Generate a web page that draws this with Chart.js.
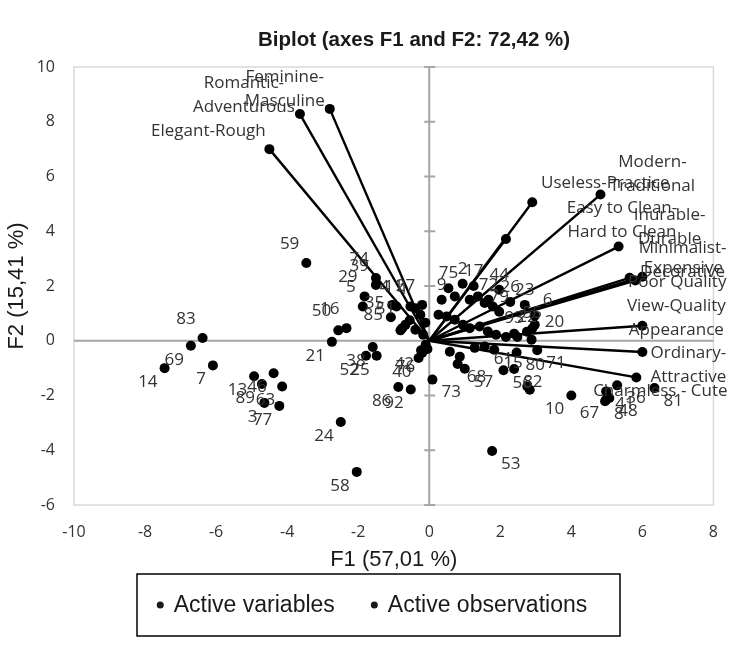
<!DOCTYPE html>
<html><head><meta charset="utf-8">
<script src="https://cdn.jsdelivr.net/npm/chart.js@4.4.1/dist/chart.umd.min.js"></script>
<style>html,body{margin:0;padding:0;background:#fff}#wrap{width:736px;height:648px}</style>
</head><body><div id="wrap"><canvas id="c" width="736" height="648"></canvas></div>
<script>
// ---------- data ----------
const chartTitle = 'Biplot (axes F1 and F2: 72,42 %)';
const xAxisTitle = 'F1 (57,01 %)';
const yAxisTitle = 'F2 (15,41 %)';
const seriesNames = ['Active variables', 'Active observations'];
const xTicks = [-10, -8, -6, -4, -2, 0, 2, 4, 6, 8];
const yTicks = [-6, -4, -2, 0, 2, 4, 6, 8, 10];

const varNames = ['Elegant-Rough', 'Romantic-\nAdventurous', 'Feminine-\nMasculine', 'Useless-Practice',
  'Modern-\nTraditional', 'Easy to Clean-\nHard to Clean', 'Inurable-\nDurable', 'Minimalist-\nDecorative',
  'Expensive', 'Poor Quality', 'View-Quality\nAppearance', 'Ordinary-\nAttractive', 'Charmless - Cute'];
const varF1 = [-4.50, -3.64, -2.80, 2.90, 4.82, 2.16, 5.33, 5.64, 6.00, 5.80, 6.00, 6.00, 5.83];
const varF2 = [7.00, 8.28, 8.47, 5.06, 5.34, 3.72, 3.44, 2.30, 2.34, 2.20, 0.55, -0.41, -1.34];

const obsNames = ['1','2','3','4','5','6','7','8','9','10','11','12','13','14','15','16','17','18','19','20',
  '21','22','23','24','25','26','27','28','29','30','31','32','33','34','35','36','37','38','39','40',
  '41','42','43','44','45','46','47','48','49','50','51','52','53','54','55','56','57','58','59','60',
  '61','62','63','64','65','66','67','68','69','70','71','72','73','74','75','76','77','78','79','80',
  '81','82','83','84','85','86','87','88','89','90','91','92','93','94','95','96'];
const obsF1 = [-0.39, 0.94, -4.64, -0.92, -1.87, 2.97, -6.09, 4.95, 0.35, 4.00,
  -0.53, 0.72, -4.93, -7.45, 1.83, -2.33, 1.25, 1.14, 1.37, 2.97,
  -2.74, 2.75, 2.69, -2.49, -1.48, 2.28, -0.20, 1.56, -1.82, 1.79,
  0.26, 0.49, 0.72, 0.95, -1.04, 5.29, 1.14, -1.59, -1.50, -0.30,
  4.98, -0.23, 1.42, 1.97, 1.65, -4.38, 1.88, 5.07, 2.16, -2.56,
  -0.76, -1.78, 1.77, 2.48, 2.90, 2.09, 1.00, -2.04, -3.46, 2.88,
  1.56, 0.58, -4.14, 0.86, 1.28, 2.76, 4.98, 0.80, -6.71, 2.83,
  3.04, 1.67, 0.09, -1.50, 0.54, -0.20, -4.22, -0.25, 1.97, 2.46,
  6.34, 2.39, -6.38, -0.11, -1.08, -0.87, -0.81, -0.67, -4.71, -0.39,
  -0.17, -0.52, 2.39, -0.10, -0.05, -0.55];
const obsF2 = [1.19, 2.08, -2.27, 1.25, 1.25, 0.91, -0.90, -2.21, 1.50, -2.00,
  1.25, 1.62, -1.30, -1.00, -0.33, 0.46, 2.00, 1.50, 1.62, 0.58,
  -0.04, 0.33, 1.31, -2.97, -0.55, 1.42, 1.31, 1.38, 1.62, 1.25,
  0.95, 0.89, 0.77, 0.58, 1.31, -1.63, 0.46, -0.23, 2.04, -0.63,
  -1.85, -0.35, 0.52, 1.86, 0.34, -1.19, 0.22, -2.09, 0.14, 0.38,
  0.46, -0.55, -4.03, 0.14, 0.45, -1.08, -1.02, -4.79, 2.84, 0.04,
  -0.21, -0.40, -1.67, -0.58, -0.26, -1.67, -2.15, -0.85, -0.18, -1.79,
  -0.35, 1.50, -1.42, 2.29, 1.92, -0.45, -2.38, 0.95, 1.06, -0.43,
  -1.73, -1.03, 0.10, 0.66, 0.86, -1.69, 0.38, 0.58, -1.58, 0.40,
  0.22, -1.78, 0.26, -0.15, -0.30, 0.75];

// ---------- styles (label placement, not data) ----------
const varLabelDX = [-61, -56, -45, 73, 52, 116, 51, 53, 41, 42, 34, 46, 24];
const varLabelDY = [-18, -31, -32, -19, -32, -31, -31, -30, -9, 2, -20, 1, 14];
const obsLabelPlace = ['tl','t','bl','tl','tl','tr','bl','br','t','bl',
  'tl','-','bl','bl','br','tl','t','-','-','r',
  'bl','t','t','bl','bl','t','tl','-','tl','-',
  '-','-','-','-','l','br','-','bl','tl','bl',
  'br','bl','-','t','-','bl','-','br','-','tl',
  'tl','bl','br','-','t','br','br','bl','tl','-',
  'br','-','bl','-','-','-','bl','br','bl','-',
  'br','t','br','tl','t','bl','bl','-','t','br',
  'br','br','tl','-','l','bl','-','-','bl','-',
  '-','bl','t','-','-','-'];
const PLACE = {bl:['right',-7,14], br:['left',9,13], tl:['right',-7,-19], tr:['left',8,-16],
  l:['right',-8,-2], r:['left',10,-3], t:['center',0,-15]};
const LABEL_FONT = '17px "Open Sans", "Noto Sans", sans-serif';
const TEXT_COLOR = '#333333';

const framePlugin = {
  id: 'frame',
  beforeDatasetsDraw(chart) {
    const {ctx, chartArea: a, scales: {x, y}} = chart;
    ctx.save();
    ctx.strokeStyle = '#d9d9d9'; ctx.lineWidth = 1.5;
    ctx.strokeRect(a.left, a.top, a.right - a.left, a.bottom - a.top);
    const x0 = x.getPixelForValue(0), y0 = y.getPixelForValue(0);
    ctx.strokeStyle = '#a6a6a6'; ctx.lineWidth = 2;
    ctx.beginPath();
    ctx.moveTo(a.left, y0); ctx.lineTo(a.right, y0);
    ctx.moveTo(x0, a.top); ctx.lineTo(x0, a.bottom);
    yTicks.forEach(v => { const py = y.getPixelForValue(v); ctx.moveTo(x0 - 5, py); ctx.lineTo(x0 + 6, py); });
    ctx.stroke();
    ctx.restore();
  },
  afterDatasetsDraw(chart) {
    const {ctx, scales: {x, y}} = chart;
    ctx.save();
    ctx.font = LABEL_FONT; ctx.fillStyle = TEXT_COLOR; ctx.textBaseline = 'middle';
    obsNames.forEach((n, i) => {
      const p = PLACE[obsLabelPlace[i]];
      if (!p) return;
      ctx.textAlign = p[0];
      ctx.fillText(n, x.getPixelForValue(obsF1[i]) + p[1], y.getPixelForValue(obsF2[i]) + p[2]);
    });
    ctx.textAlign = 'center';
    varNames.forEach((n, i) => {
      const lines = n.split('\n');
      const px = x.getPixelForValue(varF1[i]), py = y.getPixelForValue(varF2[i]);
      let cx = px + varLabelDX[i];
      const w = Math.max(...lines.map(l => ctx.measureText(l).width));
      if (cx + w / 2 > 735) cx = 735 - w / 2;
      lines.forEach((l, k) => ctx.fillText(l, cx, py + varLabelDY[i] + k * 24));
    });
    ctx.restore();
  },
  afterDraw(chart) {
    const {ctx} = chart;
    ctx.save();
    ctx.font = 'bold 20.5px "Liberation Sans", Arial, sans-serif';
    ctx.fillStyle = '#1a1a1a'; ctx.textAlign = 'center'; ctx.textBaseline = 'middle';
    ctx.fillText(chartTitle, 414, 40);
    ctx.font = '23px "Liberation Sans", Arial, sans-serif';
    ctx.textAlign = 'left';
    const r = 3.5, gapDot = 10, gapItem = 36;
    const widths = seriesNames.map(s => ctx.measureText(s).width + 2 * r + gapDot);
    const total = widths[0] + gapItem + widths[1];
    const cxL = 372, cyL = 605;
    let xx = cxL - total / 2;
    seriesNames.forEach((s, i) => {
      ctx.beginPath(); ctx.arc(xx + r, cyL, r, 0, Math.PI * 2); ctx.fill();
      ctx.fillText(s, xx + 2 * r + gapDot, cyL + 1);
      xx += widths[i] + gapItem;
    });
    ctx.strokeStyle = '#000'; ctx.lineWidth = 1.5;
    ctx.strokeRect(137, 574, 483, 62);
    ctx.restore();
  }
};

const datasets = varNames.map((n, i) => ({
  label: n,
  data: [{x: 0, y: 0}, {x: varF1[i], y: varF2[i]}],
  showLine: true,
  borderColor: '#000', borderWidth: 2.4,
  pointRadius: [0, 5], pointHoverRadius: [0, 5],
  pointBackgroundColor: '#000', pointBorderWidth: 0,
  fill: false, tension: 0
}));
datasets.push({
  label: seriesNames[1],
  data: obsF1.map((v, i) => ({x: v, y: obsF2[i]})),
  pointRadius: 5, pointHoverRadius: 5,
  pointBackgroundColor: '#000', pointBorderWidth: 0, showLine: false
});

const tickFont = {family: '"Open Sans", "Noto Sans", sans-serif', size: 16};
const axisTitleFont = {family: '"Liberation Sans", Arial, sans-serif', size: 22};
new Chart(document.getElementById('c'), {
  type: 'scatter',
  data: {datasets},
  options: {
    responsive: false, animation: false, devicePixelRatio: 1,
    layout: {padding: {top: 67, right: 14, bottom: 73, left: 0}},
    plugins: {legend: {display: false}, tooltip: {enabled: false}, title: {display: false}},
    scales: {
      x: {
        type: 'linear', min: xTicks[0], max: xTicks[xTicks.length - 1],
        afterBuildTicks: s => { s.ticks = xTicks.map(v => ({value: v})); },
        afterFit: s => { s.height = 70; },
        grid: {display: false, drawTicks: false}, border: {display: false},
        ticks: {font: tickFont, color: TEXT_COLOR, padding: 18, maxRotation: 0},
        title: {display: true, text: xAxisTitle, color: '#1a1a1a', font: axisTitleFont, padding: {top: 4, bottom: 2}}
      },
      y: {
        type: 'linear', min: yTicks[0], max: yTicks[yTicks.length - 1],
        afterBuildTicks: s => { s.ticks = yTicks.map(v => ({value: v})); },
        afterFit: s => { s.width = 74; },
        grid: {display: false, drawTicks: false}, border: {display: false},
        ticks: {font: tickFont, color: TEXT_COLOR, padding: 19},
        title: {display: true, text: yAxisTitle, color: '#1a1a1a', font: axisTitleFont, padding: {top: 4, bottom: 4}}
      }
    }
  },
  plugins: [framePlugin]
});
</script></body></html>
